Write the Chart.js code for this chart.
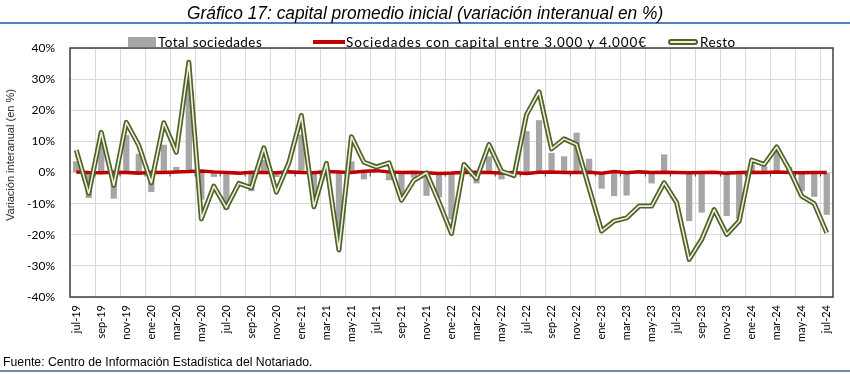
<!DOCTYPE html>
<html>
<head>
<meta charset="utf-8">
<script src="https://cdn.jsdelivr.net/npm/chart.js@4.4.1/dist/chart.umd.min.js"></script>
<style>
html, body { margin: 0; padding: 0; background: #fff; }
#wrap { position: relative; width: 850px; height: 374px; overflow: hidden; font-family: Lato, "Liberation Sans", sans-serif; color: #000; }
#chart { position: absolute; left: 0; top: 0; }
.rule { position: absolute; left: 0; width: 850px; height: 2px; }
.txt { position: absolute; white-space: nowrap; transform-origin: 0 50%; }
#title { top: 2px; font-family: "Liberation Sans", Arial, sans-serif; font-style: italic; font-size: 18px; line-height: 22px; }
#source { top: 354px; font-family: "Liberation Sans", Arial, sans-serif; font-size: 12.5px; line-height: 16px; }
.leg { position: absolute; top: 42px; font-size: 13.5px; line-height: 16px; white-space: nowrap; transform: translateY(-50%); }
.sw { position: absolute; }
#ytitle { position: absolute; left: 10px; top: 155px; font-family: "Liberation Sans", Arial, sans-serif; font-size: 11px; color: #222; white-space: nowrap; transform: translate(-50%, -50%) rotate(-90deg); }
</style>
</head>
<body>
<div id="wrap">
  <canvas id="chart" width="850" height="374"></canvas>
  <div class="rule" style="top:22px;background:#4f81bd;"></div>
  <div class="rule" style="top:370px;background:#6a8caf;"></div>
  <div id="title" class="txt">Gráfico 17: capital promedio inicial (variación interanual en %)</div>
  <div id="source" class="txt">Fuente: Centro de Información Estadística del Notariado.</div>

  <div class="sw" style="left:128px;top:37px;width:28px;height:10px;background:#a6a6a6;"></div>
  <div class="leg" id="leg1" style="left:158px;">Total sociedades</div>
  <div class="sw" style="left:313px;top:40px;width:32px;height:4px;background:#c00000;"></div>
  <div class="leg" id="leg2" style="left:346px;">Sociedades con capital entre 3.000 y 4.000€</div>
  <div class="sw" style="left:668px;top:39px;width:26px;height:2px;background:#eef1dc;border:2px solid #4f6228;border-radius:3px;"></div>
  <div class="leg" id="leg3" style="left:700px;">Resto</div>

  <div id="ytitle">Variación interanual (en %)</div>
</div>
<script>
// Meses, de jul-19 a jul-24
const months = [
    'jul-19', 'ago-19', 'sep-19', 'oct-19', 'nov-19', 'dic-19',
    'ene-20', 'feb-20', 'mar-20', 'abr-20', 'may-20', 'jun-20',
    'jul-20', 'ago-20', 'sep-20', 'oct-20', 'nov-20', 'dic-20',
    'ene-21', 'feb-21', 'mar-21', 'abr-21', 'may-21', 'jun-21',
    'jul-21', 'ago-21', 'sep-21', 'oct-21', 'nov-21', 'dic-21',
    'ene-22', 'feb-22', 'mar-22', 'abr-22', 'may-22', 'jun-22',
    'jul-22', 'ago-22', 'sep-22', 'oct-22', 'nov-22', 'dic-22',
    'ene-23', 'feb-23', 'mar-23', 'abr-23', 'may-23', 'jun-23',
    'jul-23', 'ago-23', 'sep-23', 'oct-23', 'nov-23', 'dic-23',
    'ene-24', 'feb-24', 'mar-24', 'abr-24', 'may-24', 'jun-24',
    'jul-24'
];

// Variación interanual (%)
const totalSociedades = [
    3.6, -8.2, 10.0, -8.4, 12.0, 6.0,
    -6.3, 8.9, 1.8, 27.7, -8.7, -1.4,
    -11.9, -0.5, -6.0, 4.0, -1.5, 0.5,
    12.2, -8.0, 1.0, -22.5, 3.6, -2.2,
    0.5, -2.5, -7.5, -1.7, -7.5, -8.0,
    -15.0, 1.0, -3.5, 5.2, -2.2, -0.3,
    13.3, 16.8, 6.3, 5.2, 12.8, 4.4,
    -5.2, -7.6, -7.4, -0.3, -3.5, 5.8,
    -0.3, -15.6, -12.9, -0.3, -14.0, -15.0,
    2.5, 2.0, 7.5, 1.8, -6.0, -7.8,
    -13.6
];

const capital3000a4000 = [
    0.2, 0.0, -0.1, 0.1, 0.0, -0.2,
    0.1, 0.0, 0.2, 0.3, 0.5, 0.2,
    0.0, -0.2, 0.1, 0.0, -0.1, 0.2,
    0.0, -0.1, 0.3, 0.2, 0.0, 0.4,
    0.6, 0.2, 0.0, 0.1, -0.1, -0.3,
    -0.2, 0.0, 0.1, 0.0, -0.2, 0.0,
    -0.3, 0.1, 0.2, 0.0, 0.0, 0.1,
    -0.2, 0.3, -0.1, 0.2, 0.0, 0.1,
    0.0, -0.1, 0.0, 0.1, -0.2, 0.0,
    0.1, 0.0, 0.2, 0.0, -0.1, 0.0,
    0.0
];

const resto = [
    7.2, -6.7, 12.9, -4.1, 16.1, 8.7,
    -3.3, 16.0, 6.5, 35.4, -14.9, -4.4,
    -11.3, -3.5, -4.9, 7.9, -6.3, 3.1,
    18.3, -11.0, 2.9, -24.9, 11.5, 3.3,
    1.8, 3.1, -8.9, -2.5, -0.1, -9.5,
    -19.6, 2.6, -2.0, 9.0, 0.4, -1.0,
    18.6, 25.9, 7.6, 10.8, 9.0, -5.0,
    -18.8, -15.6, -14.6, -10.8, -10.8, -3.3,
    -9.7, -27.9, -21.5, -11.9, -19.9, -15.6,
    4.0, 2.6, 8.2, 1.0, -7.6, -10.0,
    -19.4
];

// Fit a text element to the width it has in the reference
function fitWidth(id, left, width) {
    const el = document.getElementById(id);
    el.style.left = left + 'px';
    el.style.transform = 'scaleX(' + (width / el.offsetWidth) + ')';
}
fitWidth('title', 187, 476);
fitWidth('source', 3, 309);

// Legend labels: spread the letters to the reference width
function fitSpacing(id, width) {
    const el = document.getElementById(id);
    const n = el.textContent.length;
    el.style.letterSpacing = ((width - el.offsetWidth) / n).toFixed(2) + 'px';
}
fitSpacing('leg1', 104);
fitSpacing('leg2', 301);
fitSpacing('leg3', 35);

// Marco del área de gráfico y marcas del eje en 0
const frame = {
    id: 'frame',
    beforeDatasetsDraw(chart) {
        const { ctx, chartArea: a, scales: { y } } = chart;
        const y0 = y.getPixelForValue(0);
        ctx.save();
        ctx.strokeStyle = '#404040';
        ctx.lineWidth = 1;
        for (let i = 2; i < months.length; i += 2) {
            const px = a.left + (a.right - a.left) * i / months.length;
            ctx.beginPath();
            ctx.moveTo(px, y0);
            ctx.lineTo(px, y0 + 4);
            ctx.stroke();
        }
        ctx.lineWidth = 1.5;
        ctx.strokeRect(a.left, a.top, a.right - a.left, a.bottom - a.top);
        ctx.restore();
    }
};

const tickFont = { family: 'Lato', size: 11 };

const ctx = document.getElementById('chart').getContext('2d');
new Chart(ctx, {
    data: {
        labels: months,
        datasets: [
            {
                type: 'bar',
                label: 'Total sociedades',
                data: totalSociedades,
                backgroundColor: '#a6a6a6',
                barPercentage: 0.5,
                categoryPercentage: 1,
                order: 4
            },
            {
                type: 'line',
                label: 'Sociedades con capital entre 3.000 y 4.000€',
                data: capital3000a4000,
                borderColor: '#c00000',
                borderWidth: 3.5,
                pointRadius: 0,
                order: 3
            },
            {
                type: 'line',
                label: 'Resto',
                data: resto,
                borderColor: '#4f6228',
                borderWidth: 5,
                borderJoinStyle: 'round',
                pointRadius: 0,
                order: 2
            },
            {
                type: 'line',
                label: 'Resto (interior)',
                data: resto,
                borderColor: '#eef1dc',
                borderWidth: 1.6,
                borderJoinStyle: 'round',
                pointRadius: 0,
                order: 1
            }
        ]
    },
    options: {
        responsive: false,
        animation: false,
        layout: { padding: { top: 48, right: 17, left: 0, bottom: 0 } },
        plugins: {
            legend: { display: false },
            tooltip: { enabled: false }
        },
        scales: {
            x: {
                offset: true,
                grid: {
                    offset: true,
                    drawTicks: false,
                    color: c => (c.index % 2 === 0 ? '#d9d9d9' : 'rgba(0,0,0,0)')
                },
                border: { display: false },
                ticks: {
                    autoSkip: false,
                    minRotation: 90,
                    maxRotation: 90,
                    padding: 8,
                    color: '#000',
                    font: tickFont,
                    callback: (v, i) => (i % 2 === 0 ? months[i] : '')
                },
                afterFit(s) { s.height = 77; }
            },
            y: {
                min: -40,
                max: 40,
                grid: { drawTicks: false, color: '#d9d9d9' },
                border: { display: false },
                ticks: {
                    stepSize: 10,
                    padding: 15,
                    color: '#000',
                    font: { family: 'Lato', size: 12 },
                    callback: v => v + '%'
                },
                afterFit(s) { s.width = 70; }
            }
        }
    },
    plugins: [frame]
});
</script>
</body>
</html>
